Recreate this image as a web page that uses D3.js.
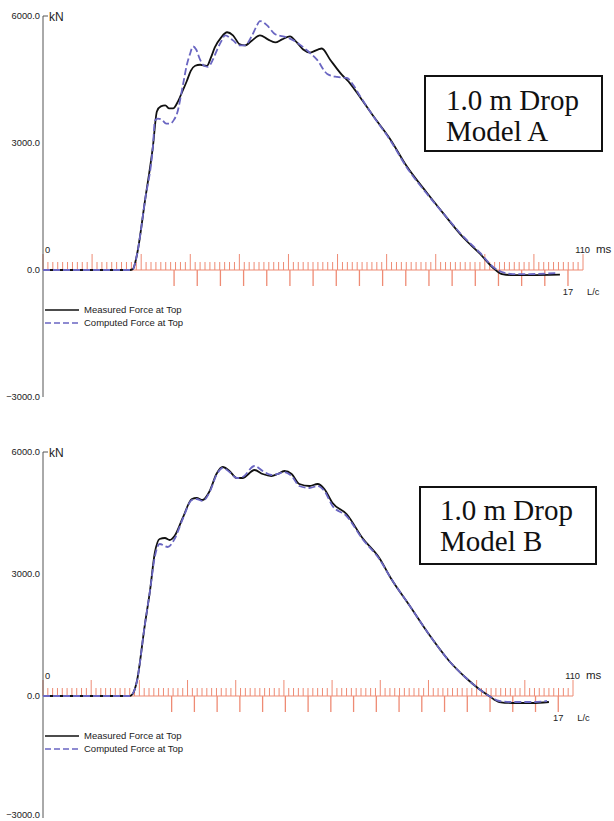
<!DOCTYPE html>
<html><head><meta charset="utf-8">
<script src="https://cdn.jsdelivr.net/npm/d3@7"></script>
<style>body{margin:0;background:#fff}svg{display:block}</style>
</head><body>
<script>
// ---- data ----
const yTickValues = [6000, 3000, 0, -3000];
const msTicks = d3.range(0, 111, 1);
const lcTicks = d3.range(0, 18, 1);
const lcStartMs = 26.7, lcPeriodMs = 4.72;
const legendLabels = ["Measured Force at Top", "Computed Force at Top"];
const titleA = ["1.0 m Drop", "Model A"];
const titleB = ["1.0 m Drop", "Model B"];

const measuredA = [[0,0],[17.7,0],[18.3,20],[19.1,336],[20.8,1656],[22.4,2928],[23.2,3744],[24.0,3864],[24.9,3888],[25.7,3816],[26.5,3816],[27.5,3984],[28.5,4248],[29.3,4464],[30.1,4704],[31.0,4824],[32.0,4848],[33.4,4824],[34.2,5016],[35.0,5256],[36.3,5496],[37.5,5616],[38.7,5544],[40.1,5328],[41.1,5304],[42.6,5424],[44.2,5544],[45.8,5448],[47.3,5376],[48.7,5448],[50.3,5520],[51.7,5376],[53.0,5208],[54.4,5136],[56.0,5208],[56.8,5232],[58.5,4968],[60.9,4608],[62.5,4416],[64.6,4080],[67.2,3648],[70.7,3096],[74.1,2448],[78.2,1824],[81.5,1344],[85.6,768],[89.0,384],[91.7,48],[93.5,-96],[95.7,-120],[99.2,-120],[105.3,-110]];
const computedA = [[0,0],[17.7,0],[18.3,20],[19.1,336],[20.8,1656],[22.4,2928],[22.8,3528],[23.4,3576],[24.2,3552],[25.1,3456],[25.9,3456],[26.7,3552],[27.3,3696],[28.5,4368],[29.3,4848],[29.9,5088],[30.6,5280],[31.2,5208],[32.0,4968],[32.8,4824],[33.6,4800],[34.6,4968],[35.4,5184],[36.3,5400],[37.1,5544],[38.7,5424],[40.1,5304],[41.1,5304],[42.6,5544],[43.4,5736],[44.2,5880],[45.6,5784],[47.3,5568],[49.7,5496],[51.7,5376],[53.8,5184],[55.8,4968],[57.9,4632],[59.9,4560],[61.9,4536],[63.2,4368],[64.6,4104],[67.2,3648],[70.7,3072],[74.1,2424],[78.2,1800],[81.5,1344],[85.6,792],[89.0,408],[91.7,72],[93.5,-48],[95.7,-96],[99.2,-96],[104.5,-72]];
const measuredB = [[0,0],[18.0,0],[18.6,49],[19.5,369],[21.1,1721],[22.2,2582],[23.2,3516],[24.2,3861],[25.3,3885],[26.3,3836],[27.3,3934],[29.0,4377],[30.9,4844],[31.9,4869],[33.1,4820],[34.6,5041],[36.0,5459],[37.3,5631],[38.7,5533],[40.2,5361],[41.4,5361],[43.9,5557],[45.6,5459],[47.4,5410],[48.7,5459],[50.1,5533],[51.6,5459],[53.2,5213],[55.3,5164],[57.0,5213],[58.4,5090],[60.1,4746],[63.0,4475],[66.3,3885],[69.8,3393],[72.3,2877],[76.0,2238],[80.2,1500],[84.3,861],[87.8,443],[90.5,172],[92.6,0],[94.7,-148],[97.4,-172],[101.5,-172],[105.0,-148]];
const computedB = [[0,0],[18.0,0],[18.6,49],[19.5,369],[21.1,1721],[22.2,2582],[23.2,3420],[24.2,3738],[25.9,3664],[27.3,3861],[29.0,4353],[30.9,4820],[31.9,4844],[33.1,4795],[34.6,5016],[36.0,5434],[37.3,5607],[38.7,5508],[40.2,5361],[41.4,5385],[43.9,5656],[45.6,5533],[47.4,5434],[48.7,5459],[50.1,5508],[51.6,5410],[53.2,5164],[55.3,5115],[57.0,5164],[58.4,5041],[60.1,4672],[63.0,4426],[66.3,3861],[69.8,3369],[72.3,2877],[76.0,2238],[80.2,1500],[84.3,861],[87.8,443],[90.5,172],[92.6,0],[94.7,-123],[97.4,-148],[101.5,-148],[104.6,-123]];

const W = 614, H = 821;
const svg = d3.select("body").append("svg").attr("width", W).attr("height", H);
const RULER = "#ee8b74";
const BLUE = "#6a66c2";
const tf = "Liberation Sans, Arial, sans-serif";

function drawPanel(g, cfg) {
  const x = d3.scaleLinear().domain([0, 110]).range(cfg.xr);
  const y = d3.scaleLinear().domain([-3000, 6000]).range(cfg.yr);
  const lc = d3.scaleLinear().domain([0, 1]).range([lcStartMs, lcStartMs + lcPeriodMs]);
  const y0 = y(0);

  // ruler (ms ticks upward)
  g.append("line").attr("x1", x(0)).attr("x2", x(110)).attr("y1", y0).attr("y2", y0)
    .attr("stroke", RULER).attr("stroke-width", 1.2);
  g.selectAll("line.ms").data(msTicks).join("line").attr("class", "ms")
    .attr("x1", d => x(d)).attr("x2", d => x(d))
    .attr("y1", y0).attr("y2", d => y0 - (d % 10 === 0 ? 16 : 8))
    .attr("stroke", RULER).attr("stroke-width", 1);
  // L/c ticks downward
  g.selectAll("line.lc").data(lcTicks).join("line").attr("class", "lc")
    .attr("x1", d => x(lc(d))).attr("x2", d => x(lc(d)))
    .attr("y1", y0).attr("y2", y0 + 16)
    .attr("stroke", RULER).attr("stroke-width", 1.3);

  // y axis
  g.append("line").attr("x1", x(0)).attr("x2", x(0)).attr("y1", y(6000)).attr("y2", y(-3000))
    .attr("stroke", "#555").attr("stroke-width", 1);
  g.append("line").attr("x1", x(0)).attr("x2", x(0) + 5).attr("y1", y(6000)).attr("y2", y(6000))
    .attr("stroke", "#555").attr("stroke-width", 1);
  g.selectAll("text.yt").data(yTickValues).join("text").attr("class", "yt")
    .attr("x", x(0) - 3).attr("y", d => y(d)).attr("dy", d => (cfg.clipBottom && d === -3000) ? "0.05em" : "0.35em")
    .attr("text-anchor", "end").attr("font-family", tf)
    .attr("font-size", 9.3).attr("fill", "#222").text(d => d3.format(".1f")(d));
  g.append("text").attr("x", x(0) + 6).attr("y", y(6000)).attr("dy", "0.38em")
    .attr("font-family", tf).attr("font-size", 12).attr("fill", "#222").text("kN");

  g.append("text").attr("x", x(0) + 2).attr("y", y0 - 17).attr("font-family", tf).attr("font-size", 9.3).attr("fill", "#222").text("0");
  g.append("text").attr("x", x(110) + 7).attr("y", y0 - 17).attr("text-anchor", "end").attr("font-family", tf).attr("font-size", 9.3).attr("fill", "#222").text("110");
  g.append("text").attr("x", x(110) + 13).attr("y", y0 - 17).attr("font-family", tf).attr("font-size", 11.5).attr("fill", "#222").text("ms");
  g.append("text").attr("x", x(lc(17))).attr("y", y0 + 25).attr("text-anchor", "middle").attr("font-family", tf).attr("font-size", 9.3).attr("fill", "#222").text("17");
  g.append("text").attr("x", x(lc(17)) + 19).attr("y", y0 + 25).attr("font-family", tf).attr("font-size", 9.3).attr("fill", "#222").text("L/c");

  // curves
  const line = d3.line().x(d => x(d[0])).y(d => y(d[1])).curve(d3.curveMonotoneX);
  g.append("path").attr("d", line(cfg.measured)).attr("fill", "none").attr("stroke", "#111").attr("stroke-width", 1.8);
  g.append("path").attr("d", line(cfg.computed)).attr("fill", "none").attr("stroke", BLUE).attr("stroke-width", 1.8)
    .attr("stroke-dasharray", "7,3");

  // legend
  const lg = g.append("g");
  lg.append("line").attr("x1", x(0) + 2).attr("x2", x(0) + 36).attr("y1", cfg.legY).attr("y2", cfg.legY)
    .attr("stroke", "#111").attr("stroke-width", 1.6);
  lg.append("line").attr("x1", x(0) + 2).attr("x2", x(0) + 36).attr("y1", cfg.legY + 13).attr("y2", cfg.legY + 13)
    .attr("stroke", BLUE).attr("stroke-width", 1.6).attr("stroke-dasharray", "6,3");
  lg.selectAll("text").data(legendLabels).join("text")
    .attr("x", x(0) + 41).attr("y", (d, i) => cfg.legY + i * 13).attr("dy", "0.35em")
    .attr("font-family", tf).attr("font-size", 9.5).attr("fill", "#222").text(d => d);

  // title box
  const b = cfg.box;
  g.append("rect").attr("x", b.x).attr("y", b.y).attr("width", b.w).attr("height", b.h)
    .attr("fill", "#fff").attr("stroke", "#111").attr("stroke-width", 2);
  g.selectAll("text.tt").data(cfg.title).join("text").attr("class", "tt")
    .attr("x", b.tx).attr("y", (d, i) => b.ty + i * 31)
    .attr("font-family", "Liberation Serif, Times New Roman, serif").attr("font-size", 29).attr("fill", "#111").text(d => d);
}

drawPanel(svg.append("g"), {xr: [43, 583], yr: [397, 16], measured: measuredA, computed: computedA,
  legY: 310, title: titleA, box: {x: 425, y: 76, w: 177, h: 75, tx: 446, ty: 110}});
drawPanel(svg.append("g"), {xr: [43, 573], yr: [818, 452], measured: measuredB, computed: computedB,
  legY: 736, title: titleB, box: {x: 420, y: 487, w: 176, h: 77, tx: 440, ty: 520}, clipBottom: true});
</script>
</body></html>
